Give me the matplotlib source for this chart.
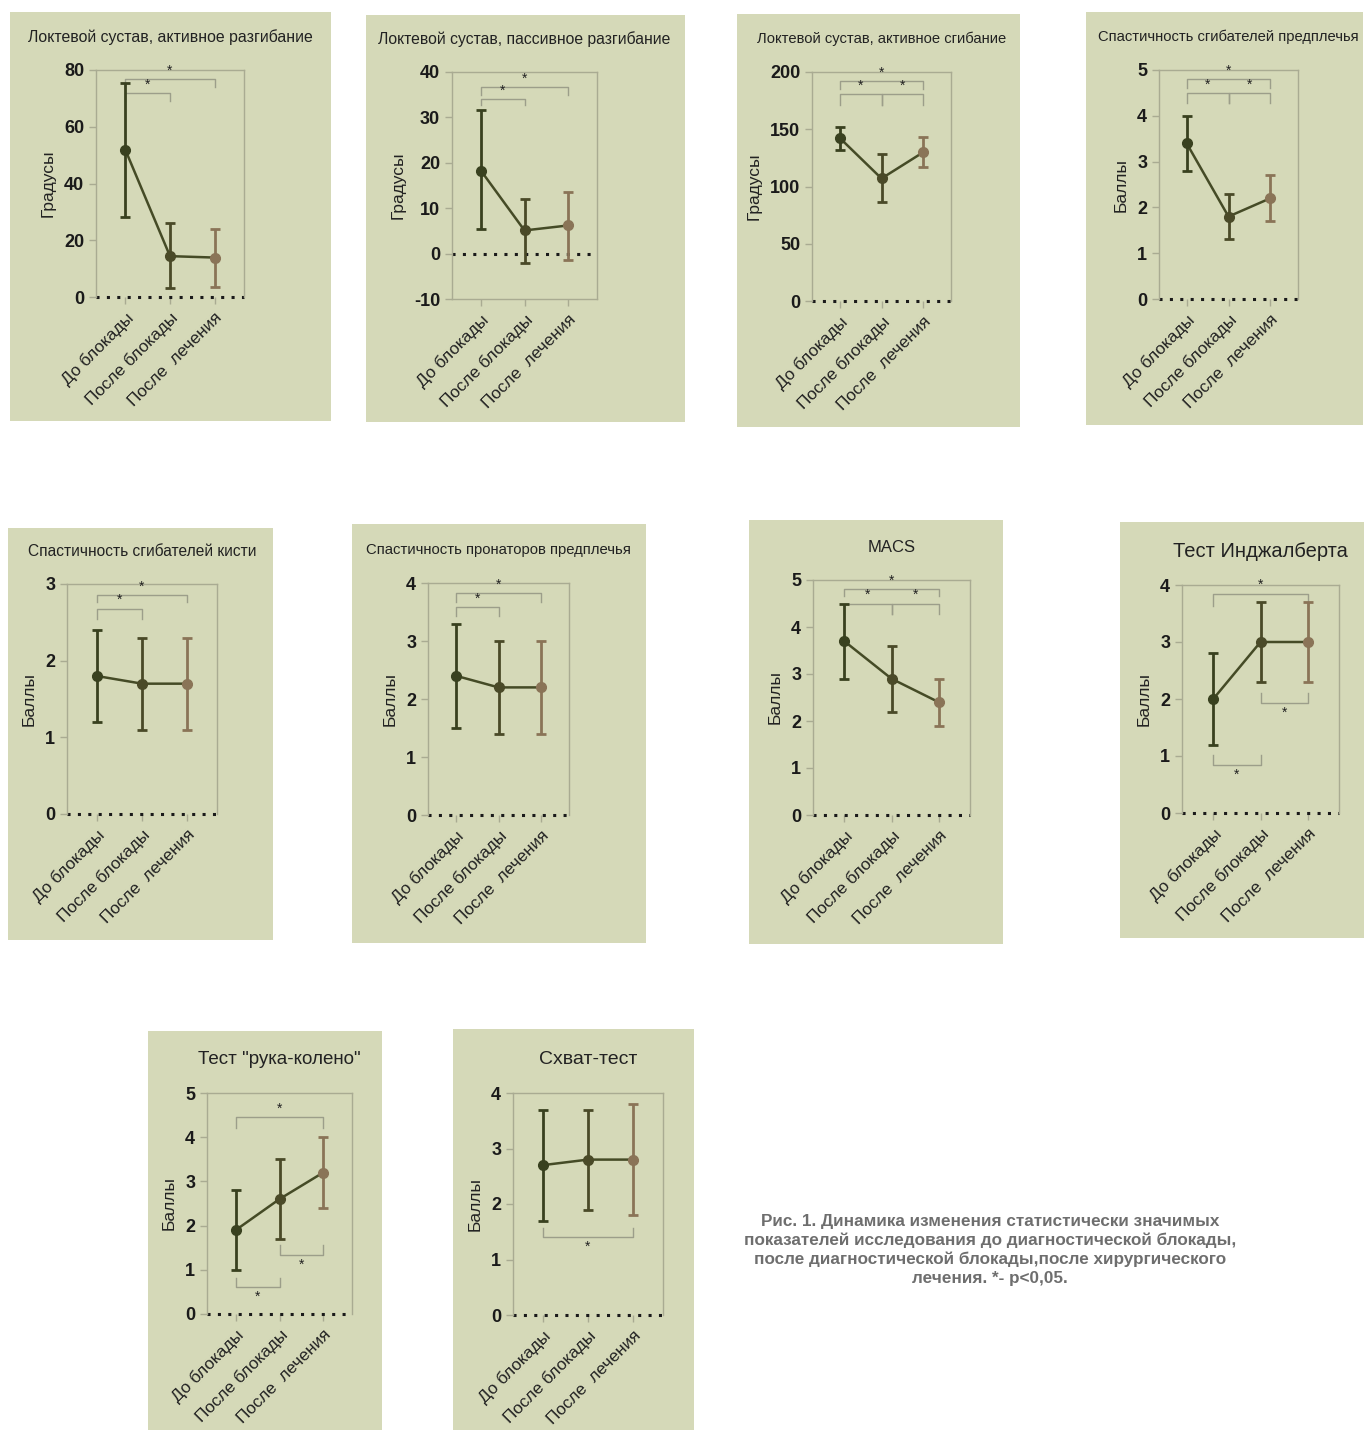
#==================================================================================================================#
# REQUIRED MODULES
#==================================================================================================================#

import matplotlib
matplotlib.use('Agg')
import matplotlib.pyplot as plt                 # plotting library
from matplotlib.patches import Rectangle        # panel backgrounds

plt.rcParams['font.family'] = ['Liberation Sans', 'DejaVu Sans']
plt.rcParams['axes.unicode_minus'] = False

#==================================================================================================================#
# DATA
#==================================================================================================================#

categories = ['До блокады', 'После блокады', 'После  лечения']

titles = ['Локтевой сустав, активное разгибание',
          'Локтевой сустав, пассивное разгибание',
          'Локтевой сустав, активное сгибание',
          'Спастичность сгибателей предплечья',
          'Спастичность сгибателей кисти',
          'Спастичность пронаторов предплечья',
          'MACS',
          'Тест Инджалберта',
          'Тест "рука-колено"',
          'Схват-тест']

ylabels = ['Градусы', 'Градусы', 'Градусы', 'Баллы', 'Баллы',
           'Баллы', 'Баллы', 'Баллы', 'Баллы', 'Баллы']

# mean values
means = [[51.8, 14.4, 13.9],
         [18.3, 5.1, 6.2],
         [142.5, 107.0, 130.0],
         [3.4, 1.8, 2.2],
         [1.8, 1.7, 1.7],
         [2.4, 2.2, 2.2],
         [3.7, 2.9, 2.4],
         [2.0, 3.0, 3.0],
         [1.9, 2.6, 3.2],
         [2.7, 2.8, 2.8]]

# upper ends of error bars
uppers = [[75.5, 26.0, 24.0],
          [31.7, 12.1, 13.6],
          [152.0, 128.0, 143.5],
          [4.0, 2.3, 2.7],
          [2.4, 2.3, 2.3],
          [3.3, 3.0, 3.0],
          [4.5, 3.6, 2.9],
          [2.8, 3.7, 3.7],
          [2.8, 3.5, 4.0],
          [3.7, 3.7, 3.8]]

# lower ends of error bars
lowers = [[28.3, 3.3, 3.6],
          [5.4, -2.0, -1.3],
          [132.0, 86.5, 117.0],
          [2.8, 1.3, 1.7],
          [1.2, 1.1, 1.1],
          [1.5, 1.4, 1.4],
          [2.9, 2.2, 1.9],
          [1.2, 2.3, 2.3],
          [1.0, 1.7, 2.4],
          [1.7, 1.9, 1.8]]

# y axis ranges and ticks
ylims = [(0, 80), (-10, 40), (0, 200), (0, 5), (0, 3), (0, 4), (0, 5), (0, 4), (0, 5), (0, 4)]
yticks = [[0, 20, 40, 60, 80], [-10, 0, 10, 20, 30, 40], [0, 50, 100, 150, 200],
          [0, 1, 2, 3, 4, 5], [0, 1, 2, 3], [0, 1, 2, 3, 4], [0, 1, 2, 3, 4, 5],
          [0, 1, 2, 3, 4], [0, 1, 2, 3, 4, 5], [0, 1, 2, 3, 4]]

# significance brackets: (group i, group j, bar level, leg end level)
brackets = [[(0, 1, 72.0, 69.0), (0, 2, 76.8, 74.0)],
            [(0, 1, 34.0, 32.8), (0, 2, 36.7, 35.0)],
            [(0, 1, 180.5, 171.0), (1, 2, 180.5, 171.0), (0, 2, 192.4, 185.0)],
            [(0, 1, 4.49, 4.27), (1, 2, 4.49, 4.27), (0, 2, 4.8, 4.6)],
            [(0, 1, 2.68, 2.55), (0, 2, 2.86, 2.77)],
            [(0, 1, 3.59, 3.43), (0, 2, 3.83, 3.67)],
            [(0, 1, 4.5, 4.27), (1, 2, 4.5, 4.27), (0, 2, 4.8, 4.66)],
            [(0, 2, 3.85, 3.63), (0, 1, 0.84, 1.02), (1, 2, 1.93, 2.1)],
            [(0, 2, 4.45, 4.2), (0, 1, 0.6, 0.81), (1, 2, 1.33, 1.56)],
            [(0, 2, 1.4, 1.57)]]

caption = ('Рис. 1. Динамика изменения статистически значимых\n'
           'показателей исследования до диагностической блокады,\n'
           'после диагностической блокады,после хирургического\n'
           'лечения. *- p<0,05.')

#==================================================================================================================#
# LAYOUT (pixels in a 1364 x 1430 image)
#==================================================================================================================#

W, H = 1364, 1430

# panel backgrounds (x0, y0, x1, y1)
panels = [(10, 12, 331, 421), (366, 15, 685, 422), (737, 14, 1020, 427), (1086, 12, 1363, 425),
          (8, 528, 273, 940), (352, 524, 646, 943), (749, 520, 1003, 944), (1120, 522, 1364, 938),
          (148, 1031, 382, 1430), (453, 1029, 694, 1430)]

# axes boxes (left, top, right, bottom)
boxes = [(96, 70, 244, 297), (452, 72, 597, 299), (812, 72, 951, 301), (1159, 70, 1298, 299),
         (67, 584, 217, 814), (428, 583, 569, 815), (813, 580, 970, 815), (1182, 585, 1339, 813),
         (207, 1093, 352, 1314), (513, 1093, 663, 1315)]

title_sizes = [11.4, 11.3, 10.6, 10.6, 11.2, 10.7, 12, 14.5, 13.5, 14]

# colours
bg = '#d5d9b8'
spine_c = '#a9ab92'
bracket_c = '#9c9e8a'
point_c = ['#39411f', '#4a4a28', '#8a7457']
line_c = '#454b26'

#==================================================================================================================#
# PLOT
#==================================================================================================================#

fig = plt.figure(figsize=(W / 100, H / 100), dpi=100)
fig.patch.set_facecolor('white')

for k in range(len(titles)):

    # panel background
    x0, y0, x1, y1 = panels[k]
    fig.add_artist(Rectangle((x0 / W, 1 - y1 / H), (x1 - x0) / W, (y1 - y0) / H,
                             transform=fig.transFigure, facecolor=bg, edgecolor='none', zorder=0))

    # axes
    l, t, r, b = boxes[k]
    ax = fig.add_axes([l / W, 1 - b / H, (r - l) / W, (b - t) / H])
    ax.set_facecolor('none')
    ax.set_zorder(1)

    xs = list(range(len(categories)))
    ax.set_xlim(-0.66, 2.66)
    ax.set_ylim(*ylims[k])
    ax.set_yticks(yticks[k])
    ax.set_xticks(xs)
    ax.set_xticklabels(categories, rotation=45, ha='right', rotation_mode='anchor',
                       fontsize=12.3, color='#222222')
    for lab in ax.get_yticklabels():
        lab.set_fontweight('bold')
        lab.set_fontsize(13)
    ax.tick_params(axis='both', colors=spine_c, labelcolor='#1a1a1a', length=5, width=1)
    ax.tick_params(axis='x', labelcolor='#222222', pad=4)

    for s in ['top', 'right', 'left', 'bottom']:
        ax.spines[s].set_color(spine_c)
        ax.spines[s].set_linewidth(1)
    if ylims[k][0] == 0:
        ax.spines['bottom'].set_visible(False)

    # dotted zero line
    ax.axhline(0, color='#1a1a1a', linestyle=(0, (1, 2.4)), linewidth=2.2, zorder=2, clip_on=False)

    # connecting line
    ax.plot(xs, means[k], color=line_c, linewidth=1.8, zorder=3)

    # error bars and points
    for i in xs:
        ax.errorbar(xs[i], means[k][i],
                    yerr=[[means[k][i] - lowers[k][i]], [uppers[k][i] - means[k][i]]],
                    color=point_c[i], ecolor=point_c[i], capsize=3.5, elinewidth=2, capthick=2,
                    marker='o', markersize=7, zorder=4)

    # significance brackets
    for (i, j, ybar, yleg) in brackets[k]:
        ax.plot([xs[i], xs[i], xs[j], xs[j]], [yleg, ybar, ybar, yleg],
                color=bracket_c, linewidth=1, zorder=2)
        above = yleg < ybar
        ax.annotate('*', xy=((xs[i] + xs[j]) / 2, ybar), xytext=(0, 1 if above else -12),
                    textcoords='offset points', ha='center', va='bottom',
                    fontsize=10, color='#222222')

    # y label and title
    ax.set_ylabel(ylabels[k], fontsize=12.5, color='#222222', labelpad=6)
    fig.text((l + r) / 2 / W, 1 - (t - 33) / H, titles[k], ha='center', va='center',
             fontsize=title_sizes[k], color='#222222')

# caption
fig.text(990 / W, 1 - 1250 / H, caption, ha='center', va='center', fontsize=12.3,
         fontweight='bold', color='#6e6e6e', linespacing=1.3)

fig.savefig('out.png', dpi=100)
